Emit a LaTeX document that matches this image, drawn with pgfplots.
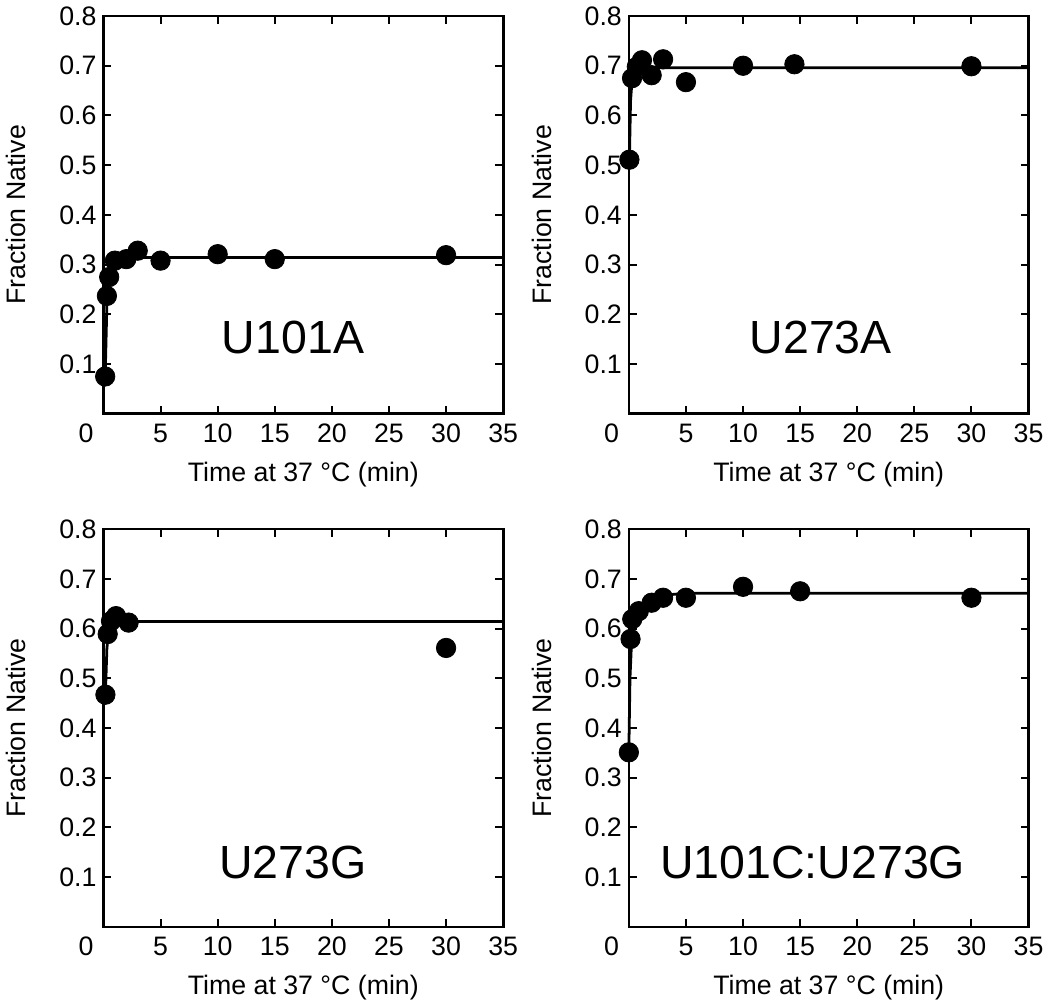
\documentclass[border=0pt]{standalone}
\usepackage{fontspec}
\setmainfont{Liberation Sans}
\usepackage{pgfplots}
\pgfplotsset{compat=1.18}

\pgfplotsset{
  panel/.style={
    scale only axis,
    width=202pt, height=201pt,
    xmin=0, xmax=35, ymin=0, ymax=0.8,
    xtick={0,5,10,15,20,25,30,35},
    xticklabels={\llap{0\hspace{5pt}},5,10,15,20,25,30,35},
    ytick={0.1,0.2,0.3,0.4,0.5,0.6,0.7,0.8},
    yticklabels={0.1,0.2,0.3,0.4,0.5,0.6,0.7,0.8},
    tick align=inside, tick pos=both,
    major tick length=4pt,
    every tick/.style={black, line width=1pt},
    axis line style={black, line width=1.35pt},
    tick label style={font=\fontsize{13.5}{15}\selectfont},
    xticklabel style={text height=9.8pt, text depth=0pt, yshift=-1pt},
    xlabel={Time at 37 °C (min)},
    ylabel={Fraction Native},
    every axis x label/.style={at={(rel axis cs:0.5,0)}, anchor=north, yshift=-21pt, font=\fontsize{13.5}{15}\selectfont},
    every axis y label/.style={at={(rel axis cs:0,0.5)}, xshift=-44pt, rotate=90, anchor=center, font=\fontsize{13.5}{15}\selectfont},
    clip=false,
  },
}
\tikzset{
  fit/.style={black, line width=1.4pt, mark=none},
  pts/.style={only marks, mark=*, mark size=4.9pt, black, mark options={fill=black}},
  tag/.style={font=\fontsize{23.5}{28}\selectfont, anchor=center},
}

\begin{document}
\begin{tikzpicture}

% U101A
\begin{axis}[panel, at={(0,259.3pt)}, anchor=south west]
\addplot[fit] coordinates {(0.15,0.075) (0.3,0.22) (0.45,0.265) (0.7,0.292) (1,0.305) (1.5,0.311) (2.5,0.314) (5,0.3145) (35,0.3145)};
\addplot[pts] coordinates {(0.15,0.075) (0.3,0.237) (0.5,0.275) (1,0.308) (2,0.311) (3,0.328) (5,0.308) (10,0.321) (15,0.311) (30,0.319)};
\node[tag] at (axis cs:16.6,0.153) {U101A};
\end{axis}

% U273A
\begin{axis}[panel, at={(265.5pt,259.3pt)}, anchor=south west]
\addplot[fit] coordinates {(0.05,0.51) (0.15,0.63) (0.3,0.675) (0.5,0.69) (1,0.696) (35,0.696)};
\addplot[pts] coordinates {(0.05,0.511) (0.28,0.675) (0.7,0.698) (1.15,0.711) (2,0.681) (3,0.713) (5,0.667) (10,0.70) (14.5,0.703) (30,0.699)};
\node[tag] at (axis cs:16.8,0.153) {U273A};
\end{axis}

% U273G
\begin{axis}[panel, at={(0,0)}, anchor=south west]
\addplot[fit] coordinates {(0.17,0.467) (0.3,0.56) (0.45,0.595) (0.7,0.61) (1,0.614) (35,0.614)};
\addplot[pts] coordinates {(0.17,0.467) (0.37,0.589) (0.66,0.615) (1.1,0.625) (2.2,0.612) (30,0.561)};
\node[tag] at (axis cs:16.6,0.13) {U273G};
\end{axis}

% U101C:U273G
\begin{axis}[panel, at={(265.5pt,0)}, anchor=south west]
\addplot[fit] coordinates {(0,0.351) (0.1,0.5) (0.25,0.58) (0.5,0.62) (1,0.643) (1.5,0.655) (2,0.661) (3,0.667) (5,0.671) (35,0.671)};
\addplot[pts] coordinates {(0,0.351) (0.15,0.579) (0.3,0.619) (0.87,0.635) (2,0.652) (3,0.662) (5,0.662) (10,0.684) (15,0.675) (30,0.662)};
\node[tag] at (axis cs:16.1,0.13) {U101C:U273G};
\end{axis}

\end{tikzpicture}
\end{document}
